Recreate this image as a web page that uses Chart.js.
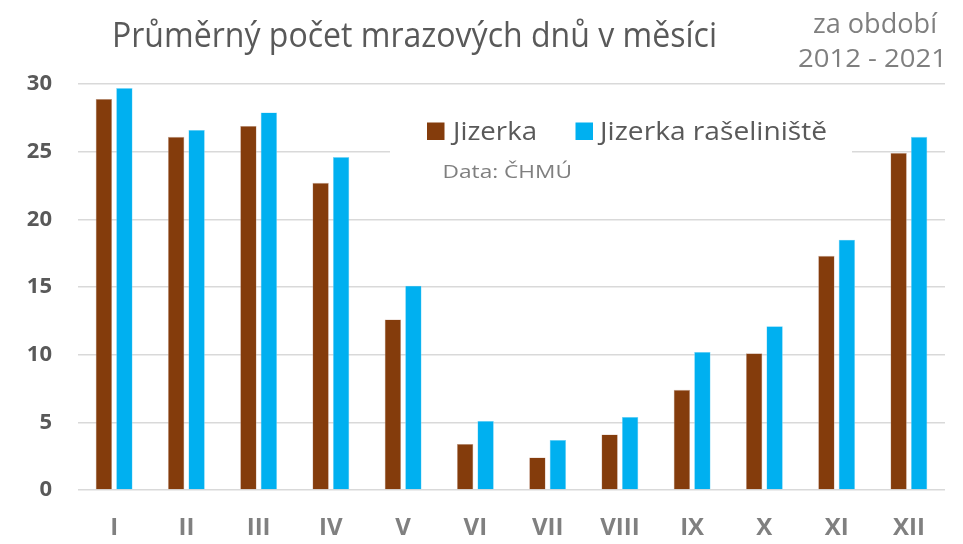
<!DOCTYPE html>
<html>
<head>
<meta charset="utf-8">
<script src="https://cdn.jsdelivr.net/npm/chart.js@4/dist/chart.umd.min.js"></script>
<style>
  body { margin: 0; background: #fff; }
</style>
</head>
<body>
<canvas id="chart" width="963" height="544"></canvas>
<script>
// months (roman numerals) and average frost days per month
const months = ['I', 'II', 'III', 'IV', 'V', 'VI', 'VII', 'VIII', 'IX', 'X', 'XI', 'XII'];
const jizerka = [28.9, 26.1, 26.9, 22.7, 12.6, 3.4, 2.4, 4.1, 7.4, 10.1, 17.3, 24.9];
const raseliniste = [29.7, 26.6, 27.9, 24.6, 15.1, 5.1, 3.7, 5.4, 10.2, 12.1, 18.5, 26.1];
const seriesNames = ['Jizerka', 'Jizerka rašeliniště'];
const yTicks = [0, 5, 10, 15, 20, 25, 30];

const titleText = 'Průměrný počet mrazových dnů v měsíci';
const periodLines = ['za období', '2012 - 2021'];
const sourceText = 'Data: ČHMÚ';

const FONT = '"Open Sans", sans-serif';

// draw text from x0 to x1, squeezing/stretching horizontally to fit
function fitText(ctx, text, x0, x1, y, size, color) {
    ctx.save();
    ctx.font = size + 'px ' + FONT;
    ctx.fillStyle = color;
    ctx.textAlign = 'left';
    ctx.textBaseline = 'alphabetic';
    const w = ctx.measureText(text).width;
    ctx.translate(x0, y);
    ctx.scale((x1 - x0) / w, 1);
    ctx.fillText(text, 0, 0);
    ctx.restore();
}

// titles + legend drawn straight on the canvas
const decorations = {
    id: 'decorations',
    beforeDatasetsDraw(chart) {
        // legend box covers the gridline behind it
        const ctx = chart.ctx;
        ctx.save();
        ctx.fillStyle = '#ffffff';
        ctx.fillRect(390, 100, 462, 100);
        ctx.restore();
    },
    afterDraw(chart) {
        const ctx = chart.ctx;
        fitText(ctx, titleText, 112, 717, 46.5, 34, '#595959');
        fitText(ctx, periodLines[0], 813, 937, 32.5, 27, '#7f7f7f');
        fitText(ctx, periodLines[1], 798, 947, 66.5, 26, '#7f7f7f');

        // legend
        const ds = chart.data.datasets;
        const items = [{ x: 427, x0: 453, x1: 537 }, { x: 575.5, x0: 600, x1: 827 }];
        items.forEach((it, i) => {
            ctx.fillStyle = ds[i].backgroundColor;
            ctx.fillRect(it.x, 122.5, 17.5, 17.5);
            fitText(ctx, ds[i].label, it.x0, it.x1, 140, 25.5, '#595959');
        });
        fitText(ctx, sourceText, 442.5, 572, 178.3, 18.7, '#7f7f7f');
    }
};

const ctx = document.getElementById('chart').getContext('2d');
const frostChart = new Chart(ctx, {
    type: 'bar',
    data: {
        labels: months,
        datasets: [{
            label: seriesNames[0],
            data: jizerka,
            backgroundColor: '#843C0C',
            borderColor: '#c9a898',
            borderWidth: 0.6,
        }, {
            label: seriesNames[1],
            data: raseliniste,
            backgroundColor: '#00B0F0',
            borderColor: '#7fd7f7',
            borderWidth: 0.6,
        }],
    },
    options: {
        responsive: false,
        animation: false,
        layout: { padding: { top: 84, right: 18, left: 0, bottom: 0 } },
        datasets: {
            bar: { categoryPercentage: 0.567, barPercentage: 0.8 }
        },
        plugins: {
            legend: { display: false },
            title: { display: false },
            tooltip: { enabled: false }
        },
        scales: {
            x: {
                grid: { display: false, drawTicks: false },
                border: { display: false },
                ticks: {
                    color: '#808080',
                    font: { family: FONT, size: 24, weight: 'bold' },
                    padding: 24
                },
                afterFit(scale) { scale.height = 54; }
            },
            y: {
                min: 0,
                max: 30,
                afterBuildTicks(scale) { scale.ticks = yTicks.map(v => ({ value: v })); },
                grid: { color: '#d9d9d9', lineWidth: 1.5, drawTicks: false },
                border: { display: false },
                ticks: {
                    color: '#595959',
                    font: { family: FONT, size: 22, weight: 'bold' },
                    padding: 26
                },
                afterFit(scale) { scale.width = 78; }
            }
        }
    },
    plugins: [decorations]
});
</script>
</body>
</html>
